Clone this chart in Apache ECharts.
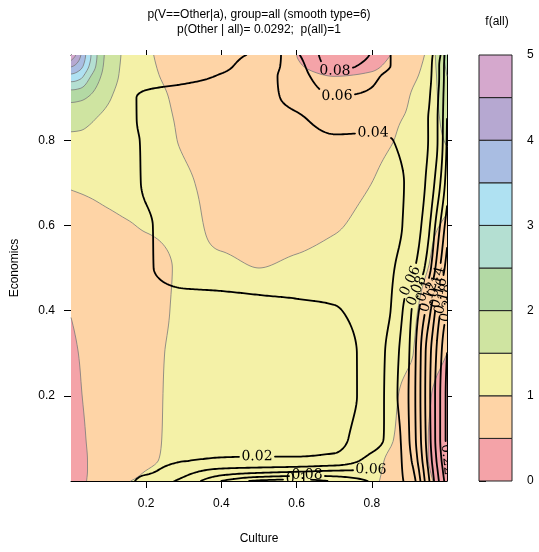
<!DOCTYPE html>
<html><head><meta charset="utf-8">
<script src="https://cdn.jsdelivr.net/npm/echarts@6/dist/echarts.min.js"></script>
<style>html,body{margin:0;padding:0;background:#fff}#c{width:539px;height:552px}</style>
</head><body><div id="c"></div>
<script>
// ---------------- data ----------------
const xGrid = [0, 0.025, 0.05, 0.1, 0.15, 0.2, 0.3, 0.4, 0.5, 0.6, 0.7, 0.8, 0.85, 0.9, 0.95, 0.975, 1];
const yGrid = [1, 0.975, 0.95, 0.9, 0.85, 0.8, 0.7, 0.6, 0.5, 0.4, 0.3, 0.2, 0.1, 0.05, 0.025, 0]; // rows top -> bottom

// f(all): filled density field
const fValues = [
  [4.95, 4.05, 3.1, 1.8, 1.38, 1.05, 0.88, 0.76, 0.63, 0.5, 0.36, 0.40, 0.5, 0.8, 1.08, 1.65, 2.2],
  [4.1, 3.7, 2.95, 1.76, 1.37, 1.06, 0.9, 0.78, 0.65, 0.52, 0.42, 0.46, 0.56, 0.85, 1.12, 1.6, 2.1],
  [3.35, 3.15, 2.55, 1.72, 1.35, 1.07, 0.92, 0.8, 0.68, 0.57, 0.5, 0.53, 0.62, 0.9, 1.15, 1.55, 2.0],
  [2.15, 2.1, 1.95, 1.55, 1.27, 1.1, 0.95, 0.85, 0.74, 0.65, 0.6, 0.64, 0.72, 1.0, 1.22, 1.5, 1.85],
  [1.65, 1.62, 1.55, 1.38, 1.22, 1.1, 0.97, 0.88, 0.8, 0.72, 0.7, 0.8, 0.93, 1.05, 1.25, 1.45, 1.7],
  [1.42, 1.42, 1.4, 1.31, 1.2, 1.12, 0.98, 0.9, 0.82, 0.78, 0.78, 0.88, 0.98, 1.1, 1.25, 1.4, 1.55],
  [1.04, 1.06, 1.08, 1.12, 1.14, 1.13, 1.03, 0.93, 0.85, 0.82, 0.88, 1.0, 1.1, 1.18, 1.22, 1.22, 1.2],
  [0.85, 0.86, 0.88, 0.93, 0.98, 1.02, 1.04, 0.95, 0.9, 0.9, 0.97, 1.08, 1.1, 1.1, 1.05, 1.01, 0.95],
  [0.7, 0.72, 0.75, 0.8, 0.86, 0.92, 1.02, 1.04, 1.0, 1.05, 1.12, 1.15, 1.12, 1.06, 1.0, 0.92, 0.85],
  [0.52, 0.6, 0.66, 0.76, 0.85, 0.92, 1.04, 1.12, 1.15, 1.17, 1.18, 1.15, 1.08, 1.04, 0.92, 0.8, 0.68],
  [0.42, 0.52, 0.6, 0.72, 0.83, 0.94, 1.05, 1.15, 1.2, 1.22, 1.22, 1.18, 1.1, 1.03, 0.8, 0.62, 0.5],
  [0.36, 0.48, 0.58, 0.72, 0.84, 0.94, 1.06, 1.15, 1.2, 1.22, 1.2, 1.15, 1.06, 0.88, 0.55, 0.42, 0.36],
  [0.3, 0.42, 0.55, 0.7, 0.83, 0.95, 1.05, 1.12, 1.15, 1.17, 1.15, 1.08, 1.02, 0.82, 0.5, 0.42, 0.38],
  [0.28, 0.4, 0.53, 0.72, 0.88, 0.97, 1.04, 1.08, 1.1, 1.12, 1.1, 1.04, 0.97, 0.78, 0.5, 0.43, 0.39],
  [0.27, 0.4, 0.53, 0.74, 0.92, 1.0, 1.04, 1.07, 1.08, 1.1, 1.08, 1.03, 0.96, 0.77, 0.52, 0.44, 0.4],
  [0.26, 0.4, 0.55, 0.8, 0.99, 1.03, 1.05, 1.06, 1.07, 1.08, 1.06, 1.02, 0.95, 0.76, 0.55, 0.46, 0.42]
];

// p(Other | a): black contour field
const pValues = [
  [0.012, 0.012, 0.013, 0.014, 0.015, 0.016, 0.017, 0.018, 0.022, 0.057, 0.088, 0.079, 0.06, 0.05, 0.055, 0.07, 0.115],
  [0.012, 0.012, 0.013, 0.014, 0.015, 0.015, 0.016, 0.018, 0.028, 0.052, 0.085, 0.074, 0.06, 0.05, 0.055, 0.075, 0.115],
  [0.012, 0.012, 0.012, 0.013, 0.014, 0.015, 0.017, 0.021, 0.032, 0.05, 0.074, 0.064, 0.055, 0.05, 0.056, 0.075, 0.116],
  [0.012, 0.012, 0.013, 0.015, 0.018, 0.022, 0.026, 0.03, 0.035, 0.045, 0.059, 0.057, 0.052, 0.05, 0.058, 0.078, 0.118],
  [0.012, 0.012, 0.013, 0.015, 0.018, 0.022, 0.027, 0.031, 0.034, 0.038, 0.046, 0.048, 0.048, 0.05, 0.06, 0.08, 0.12],
  [0.012, 0.012, 0.013, 0.015, 0.018, 0.021, 0.026, 0.029, 0.032, 0.035, 0.0385, 0.0375, 0.0395, 0.046, 0.06, 0.08, 0.122],
  [0.011, 0.011, 0.012, 0.014, 0.017, 0.021, 0.025, 0.027, 0.029, 0.031, 0.033, 0.035, 0.037, 0.042, 0.065, 0.09, 0.13],
  [0.011, 0.011, 0.012, 0.013, 0.016, 0.019, 0.024, 0.026, 0.027, 0.028, 0.03, 0.033, 0.036, 0.044, 0.075, 0.11, 0.15],
  [0.011, 0.011, 0.012, 0.013, 0.016, 0.019, 0.023, 0.0235, 0.024, 0.0245, 0.026, 0.032, 0.038, 0.052, 0.09, 0.13, 0.17],
  [0.011, 0.011, 0.011, 0.012, 0.013, 0.015, 0.0165, 0.0172, 0.0179, 0.0186, 0.0193, 0.028, 0.04, 0.075, 0.13, 0.17, 0.2],
  [0.011, 0.011, 0.011, 0.012, 0.013, 0.014, 0.015, 0.015, 0.015, 0.016, 0.016, 0.026, 0.048, 0.08, 0.15, 0.185, 0.22],
  [0.011, 0.011, 0.011, 0.012, 0.013, 0.014, 0.015, 0.015, 0.015, 0.016, 0.016, 0.026, 0.05, 0.082, 0.152, 0.19, 0.225],
  [0.012, 0.012, 0.012, 0.013, 0.014, 0.015, 0.016, 0.016, 0.016, 0.016, 0.016, 0.034, 0.045, 0.08, 0.15, 0.19, 0.225],
  [0.013, 0.013, 0.013, 0.014, 0.015, 0.015, 0.019, 0.021, 0.0215, 0.0215, 0.024, 0.045, 0.048, 0.075, 0.145, 0.185, 0.22],
  [0.014, 0.014, 0.014, 0.015, 0.016, 0.017, 0.032, 0.045, 0.05, 0.054, 0.059, 0.061, 0.052, 0.07, 0.14, 0.18, 0.215],
  [0.015, 0.015, 0.016, 0.017, 0.017, 0.028, 0.045, 0.08, 0.104, 0.11, 0.097, 0.077, 0.055, 0.065, 0.135, 0.175, 0.21]
];

const fLevels = [0, 0.5, 1, 1.5, 2, 2.5, 3, 3.5, 4, 4.5, 5];
const bandColors = ['#F4A3A8', '#FED4A6', '#F4F1A7', '#CFE4A1', '#B3D9A4', '#B4DFD2', '#AFE1F2', '#A9BDE2', '#B6A8D1', '#D5A8CD'];
const pLevels = [0.02, 0.04, 0.06, 0.08, 0.1, 0.12, 0.14, 0.16, 0.18, 0.2, 0.22, 0.24, 0.26, 0.28];
const xTicks = [0.2, 0.4, 0.6, 0.8];
const yTicks = [0.2, 0.4, 0.6, 0.8];
const barTicks = [0, 1, 2, 3, 4, 5];

const titleLine1 = 'p(V==Other|a), group=all (smooth type=6)';
const titleLine2 = 'p(Other | all)= 0.0292;  p(all)=1';
const barTitle = 'f(all)';

// ---------------- smooth surface from the grid (monotone cubic) ----------------
const NX = 188, NY = 213;
const FX = Array.from({length: NX + 1}, (_, i) => i / NX);
const FY = Array.from({length: NY + 1}, (_, j) => j / NY);

function pchipSlopes(xs, ys) {
  const n = xs.length, h = [], d = [], m = new Array(n);
  for (let i = 0; i < n - 1; i++) { h.push(xs[i + 1] - xs[i]); d.push((ys[i + 1] - ys[i]) / h[i]); }
  for (let i = 1; i < n - 1; i++) {
    if (d[i - 1] * d[i] <= 0) m[i] = 0;
    else { const w1 = 2 * h[i] + h[i - 1], w2 = h[i] + 2 * h[i - 1]; m[i] = (w1 + w2) / (w1 / d[i - 1] + w2 / d[i]); }
  }
  const endSlope = (h0, h1, d0, d1) => {
    let s = ((2 * h0 + h1) * d0 - h0 * d1) / (h0 + h1);
    if (Math.sign(s) !== Math.sign(d0)) s = 0;
    else if (Math.sign(d0) !== Math.sign(d1) && Math.abs(s) > Math.abs(3 * d0)) s = 3 * d0;
    return s;
  };
  m[0] = endSlope(h[0], h[1], d[0], d[1]);
  m[n - 1] = endSlope(h[n - 2], h[n - 3], d[n - 2], d[n - 3]);
  return m;
}
function pchipEval(xs, ys, m, x) {
  let k = 0;
  while (k < xs.length - 2 && x > xs[k + 1]) k++;
  const h = xs[k + 1] - xs[k], t = (x - xs[k]) / h, t2 = t * t, t3 = t2 * t;
  return (2 * t3 - 3 * t2 + 1) * ys[k] + (t3 - 2 * t2 + t) * h * m[k] + (-2 * t3 + 3 * t2) * ys[k + 1] + (t3 - t2) * h * m[k + 1];
}
function buildField(rows) {
  const yAsc = yGrid.slice().reverse();
  const rowsAsc = rows.slice().reverse();
  const rowFine = rowsAsc.map(r => { const m = pchipSlopes(xGrid, r); return FX.map(x => pchipEval(xGrid, r, m, x)); });
  const G = [];
  for (let i = 0; i <= NX; i++) {
    const col = rowFine.map(r => r[i]);
    const m = pchipSlopes(yAsc, col);
    G.push(FY.map(y => pchipEval(yAsc, col, m, y)));
  }
  return G;
}
const Fgrid = buildField(fValues);
const Pgrid = buildField(pValues);

// ---------------- contour helpers ----------------
const rd = v => Math.round(v * 100) / 100;

function bandPath(G, L, toX, toY) {
  const parts = [];
  for (let j = 0; j < NY; j++) {
    const y0 = toY(FY[j]), y1 = toY(FY[j + 1]);
    let run = -1;
    for (let i = 0; i <= NX; i++) {
      const full = i < NX && G[i][j] >= L && G[i + 1][j] >= L && G[i][j + 1] >= L && G[i + 1][j + 1] >= L;
      if (full) { if (run < 0) run = i; continue; }
      if (run >= 0) {
        const xa = rd(toX(FX[run])), xb = rd(toX(FX[i]));
        parts.push('M' + xa + ' ' + rd(y0) + 'L' + xb + ' ' + rd(y0) + 'L' + xb + ' ' + rd(y1) + 'L' + xa + ' ' + rd(y1) + 'Z');
        run = -1;
      }
      if (i >= NX) break;
      const v = [G[i][j], G[i + 1][j], G[i + 1][j + 1], G[i][j + 1]];
      if (v[0] < L && v[1] < L && v[2] < L && v[3] < L) continue;
      const cx = [FX[i], FX[i + 1], FX[i + 1], FX[i]], cy = [FY[j], FY[j], FY[j + 1], FY[j + 1]];
      const poly = [];
      for (let k = 0; k < 4; k++) {
        const k2 = (k + 1) % 4;
        if (v[k] >= L) poly.push([cx[k], cy[k]]);
        if ((v[k] >= L) !== (v[k2] >= L)) {
          const t = (L - v[k]) / (v[k2] - v[k]);
          poly.push([cx[k] + t * (cx[k2] - cx[k]), cy[k] + t * (cy[k2] - cy[k])]);
        }
      }
      parts.push('M' + poly.map(p => rd(toX(p[0])) + ' ' + rd(toY(p[1]))).join('L') + 'Z');
    }
  }
  return parts.join('');
}

function contourPolylines(G, L) {
  const W = NX + 1;
  const hKey = (i, j) => (j * W + i) * 2, vKey = (i, j) => (j * W + i) * 2 + 1;
  const pt = key => {
    const isV = key % 2, base = (key - isV) / 2, i = base % W, j = (base - i) / W;
    if (!isV) { const a = G[i][j], b = G[i + 1][j], t = (L - a) / (b - a); return [FX[i] + t * (FX[i + 1] - FX[i]), FY[j]]; }
    const a = G[i][j], b = G[i][j + 1], t = (L - a) / (b - a); return [FX[i], FY[j] + t * (FY[j + 1] - FY[j])];
  };
  const segs = [];
  for (let i = 0; i < NX; i++) for (let j = 0; j < NY; j++) {
    const a = G[i][j] >= L, b = G[i + 1][j] >= L, c = G[i + 1][j + 1] >= L, d = G[i][j + 1] >= L;
    const E = {B: hKey(i, j), R: vKey(i + 1, j), T: hKey(i, j + 1), Lf: vKey(i, j)};
    const cr = [];
    if (a !== b) cr.push('B'); if (b !== c) cr.push('R'); if (d !== c) cr.push('T'); if (a !== d) cr.push('Lf');
    if (cr.length === 2) segs.push([E[cr[0]], E[cr[1]]]);
    else if (cr.length === 4) {
      const ctr = (G[i][j] + G[i + 1][j] + G[i + 1][j + 1] + G[i][j + 1]) / 4 >= L;
      if (a) {
        if (ctr) { segs.push([E.B, E.R]); segs.push([E.T, E.Lf]); } else { segs.push([E.B, E.Lf]); segs.push([E.R, E.T]); }
      } else {
        if (ctr) { segs.push([E.B, E.Lf]); segs.push([E.R, E.T]); } else { segs.push([E.B, E.R]); segs.push([E.T, E.Lf]); }
      }
    }
  }
  const byKey = new Map();
  segs.forEach((s, k) => s.forEach(e => { if (!byKey.has(e)) byKey.set(e, []); byKey.get(e).push(k); }));
  const used = new Uint8Array(segs.length);
  const lines = [];
  for (let k = 0; k < segs.length; k++) {
    if (used[k]) continue;
    used[k] = 1;
    const chain = [segs[k][0], segs[k][1]];
    for (let dir = 0; dir < 2; dir++) {
      let cur = dir === 0 ? chain[chain.length - 1] : chain[0];
      while (true) {
        const lst = byKey.get(cur); let nx = -1;
        for (const m of lst) if (!used[m]) { nx = m; break; }
        if (nx < 0) break;
        used[nx] = 1;
        const other = segs[nx][0] === cur ? segs[nx][1] : segs[nx][0];
        if (dir === 0) chain.push(other); else chain.unshift(other);
        cur = other;
      }
    }
    lines.push(chain.map(pt));
  }
  return lines;
}

const measureCtx = document.createElement('canvas').getContext('2d');
const labelFont = '14px "DejaVu Serif"';
measureCtx.font = labelFont;
const fmtLevel = v => String(+v.toFixed(2));

// ---------------- chart ----------------
const chart = echarts.init(document.getElementById('c'), null, {renderer: 'canvas'});
const axisFont = {fontFamily: 'Liberation Sans, Arial, sans-serif', fontSize: 12, color: '#000'};

function mapper(api) {
  const o = api.coord([0, 0]), e = api.coord([1, 1]);
  return [x => o[0] + x * (e[0] - o[0]), y => o[1] + y * (e[1] - o[1])];
}

const option = {
  animation: false,
  backgroundColor: '#fff',
  graphic: [
    {type: 'text', x: 259, y: 15, silent: true, style: {text: titleLine1, align: 'center', verticalAlign: 'middle', font: '12px "Liberation Sans", Arial', fill: '#000'}},
    {type: 'text', x: 259, y: 30, silent: true, style: {text: titleLine2, align: 'center', verticalAlign: 'middle', font: '12px "Liberation Sans", Arial', fill: '#000'}},
    {type: 'text', x: 497, y: 22, silent: true, style: {text: barTitle, align: 'center', verticalAlign: 'middle', font: '12px "Liberation Sans", Arial', fill: '#000'}}
  ],
  grid: [
    {left: 71, top: 55, width: 376, height: 426, show: false},
    {left: 479, top: 55, width: 33, height: 426, show: false}
  ],
  xAxis: [
    {gridIndex: 0, type: 'value', min: 0, max: 1, position: 'bottom',
     axisLine: {show: true, onZero: false, lineStyle: {color: '#000', width: 1}},
     axisTick: {show: true, inside: false, length: 7, customValues: xTicks, lineStyle: {color: '#000'}},
     axisLabel: {show: true, customValues: xTicks, margin: 17, formatter: v => String(v), ...axisFont},
     splitLine: {show: false},
     name: 'Culture', nameLocation: 'middle', nameGap: 52, nameTextStyle: axisFont},
    {gridIndex: 0, type: 'value', min: 0, max: 1, position: 'top',
     axisLine: {show: true, onZero: false, lineStyle: {color: '#000', width: 1}},
     axisTick: {show: true, inside: false, length: 5, customValues: xTicks, lineStyle: {color: '#000'}},
     axisLabel: {show: false}, splitLine: {show: false}},
    {gridIndex: 1, type: 'value', min: 0, max: 1, show: false}
  ],
  yAxis: [
    {gridIndex: 0, type: 'value', min: 0, max: 1, position: 'left',
     axisLine: {show: true, onZero: false, lineStyle: {color: '#000', width: 1}},
     axisTick: {show: true, inside: false, length: 7, customValues: yTicks, lineStyle: {color: '#000'}},
     axisLabel: {show: true, customValues: yTicks, margin: 16, formatter: v => String(v), ...axisFont},
     splitLine: {show: false},
     name: 'Economics', nameLocation: 'middle', nameGap: 50, nameRotate: 90, nameTextStyle: axisFont},
    {gridIndex: 0, type: 'value', min: 0, max: 1, position: 'right',
     axisLine: {show: true, onZero: false, lineStyle: {color: '#000', width: 1}},
     axisTick: {show: true, inside: false, length: 5, customValues: yTicks, lineStyle: {color: '#000'}},
     axisLabel: {show: false}, splitLine: {show: false}},
    {gridIndex: 1, type: 'value', min: 0, max: 5, interval: 1, position: 'right',
     axisLine: {show: false},
     axisTick: {show: true, inside: false, length: 7, customValues: barTicks, lineStyle: {color: '#000'}},
     axisLabel: {show: true, customValues: barTicks, margin: 15, formatter: v => String(v), ...axisFont},
     splitLine: {show: false}}
  ],
  series: [
    { // filled bands of f(all)
      type: 'custom', xAxisIndex: 0, yAxisIndex: 0, silent: true,
      data: bandColors.map((c, k) => [fLevels[k], fLevels[k + 1]]),
      renderItem: (params, api) => {
        const [toX, toY] = mapper(api);
        const lo = api.value(0);
        return {type: 'path', shape: {pathData: bandPath(Fgrid, lo, toX, toY)}, style: {fill: bandColors[params.dataIndex], lineWidth: 0}};
      }
    },
    { // grey band boundaries
      type: 'custom', xAxisIndex: 0, yAxisIndex: 0, silent: true,
      data: fLevels.slice(1, -1).map(v => [v, 0]),
      renderItem: (params, api) => {
        const [toX, toY] = mapper(api);
        const L = api.value(0);
        const d = contourPolylines(Fgrid, L).map(pl => 'M' + pl.map(p => rd(toX(p[0])) + ' ' + rd(toY(p[1]))).join('L')).join('');
        return {type: 'path', shape: {pathData: d || 'M0 0'}, style: {fill: null, stroke: '#7a7a7a', lineWidth: 0.8}};
      }
    },
    { // black labelled contours of p(Other | a); label at the flattest segment
      type: 'custom', xAxisIndex: 0, yAxisIndex: 0, silent: true, clip: true,
      data: pLevels.map(v => [v, 0]),
      renderItem: (params, api) => {
        const [toX, toY] = mapper(api);
        const L = api.value(0);
        const txt = fmtLevel(L);
        const tw = measureCtx.measureText(txt).width;
        const children = [];
        let d = '';
        contourPolylines(Pgrid, L).forEach(pl => {
          if (pl.length < 2) return;
          let best = Infinity, tl = 0;
          for (let k = 0; k < pl.length - 1; k++) {
            const dx = pl[k + 1][0] - pl[k][0], dy = pl[k + 1][1] - pl[k][1];
            const sl = dx === 0 ? Infinity : Math.abs(dy / dx);
            if (sl < best) { best = sl; tl = k; }
          }
          const P = pl.map(p => [toX(p[0]), toY(p[1])]);
          let ang = Math.atan2(-(P[tl + 1][1] - P[tl][1]), P[tl + 1][0] - P[tl][0]);
          if (ang > Math.PI / 2) ang -= Math.PI;
          if (ang <= -Math.PI / 2) ang += Math.PI;
          const s = [0];
          for (let k = 1; k < P.length; k++) s.push(s[k - 1] + Math.hypot(P[k][0] - P[k - 1][0], P[k][1] - P[k - 1][1]));
          const s0 = s[tl], hw = tw / 2 + 2;
          let pen = false;
          for (let k = 0; k < P.length; k++) {
            if (Math.abs(s[k] - s0) < hw) { pen = false; continue; }
            d += (pen ? 'L' : 'M') + rd(P[k][0]) + ' ' + rd(P[k][1]);
            pen = true;
          }
          children.push({type: 'text', x: P[tl][0], y: P[tl][1], rotation: ang,
            style: {text: txt, font: labelFont, fill: '#000', align: 'center', verticalAlign: 'middle'}});
        });
        children.unshift({type: 'path', shape: {pathData: d || 'M0 0'}, style: {fill: null, stroke: '#000', lineWidth: 1.8, lineJoin: 'round', lineCap: 'round'}});
        return {type: 'group', children};
      }
    },
    { // colour key
      type: 'custom', xAxisIndex: 2, yAxisIndex: 2, silent: true,
      data: bandColors.map((c, k) => [fLevels[k], fLevels[k + 1]]),
      renderItem: (params, api) => {
        const a = api.coord([0, api.value(1)]), b = api.coord([1, api.value(0)]);
        return {type: 'rect', shape: {x: a[0], y: a[1], width: b[0] - a[0], height: b[1] - a[1]},
                style: {fill: bandColors[params.dataIndex], stroke: '#222', lineWidth: 1}};
      }
    }
  ]
};
chart.setOption(option);
</script>
</body></html>
